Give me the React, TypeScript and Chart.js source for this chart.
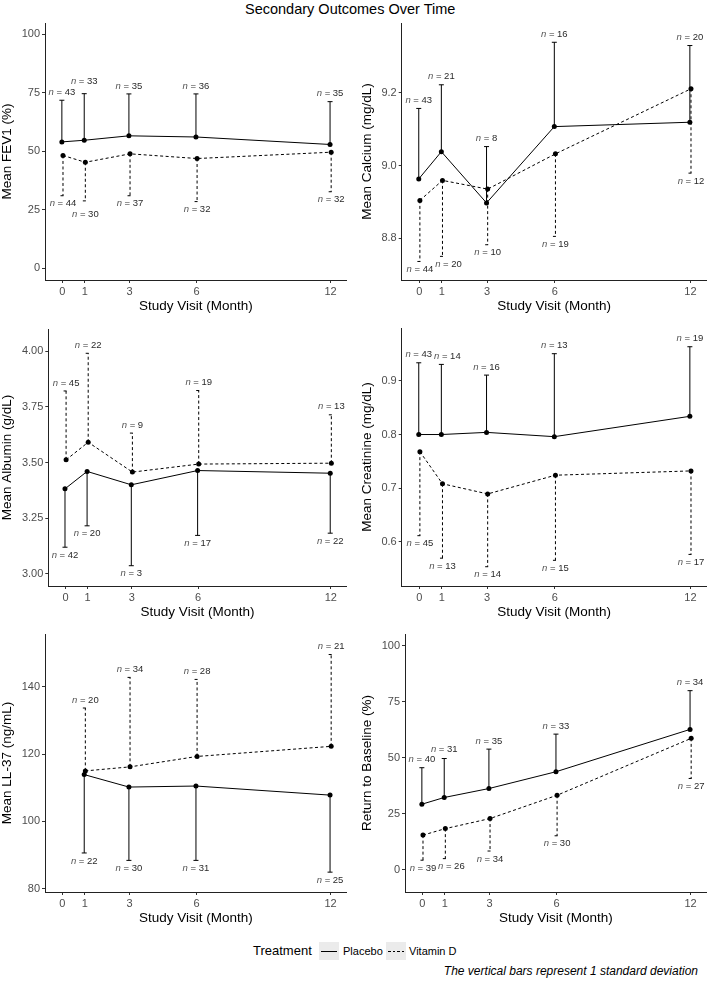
import React, { useEffect, useRef } from "react";
import { Chart, registerables } from "chart.js";

Chart.register(...registerables);

const FONT = '"Liberation Sans", Arial, Helvetica, sans-serif';

// ---------- data ----------
const months = [0, 1, 3, 6, 12];
const monthsLL37 = [1, 3, 6, 12];

// FEV1 (%)
const fev1Ticks = [0, 25, 50, 75, 100];
const fev1PlaceboMean = [53.9, 54.6, 56.5, 56.0, 52.8];
const fev1PlaceboEnd = [71.7, 74.5, 74.4, 74.4, 71.1];
const fev1PlaceboN = [43, 33, 35, 36, 35];
const fev1VitDMean = [48.1, 45.2, 48.8, 46.8, 49.5];
const fev1VitDEnd = [30.9, 28.7, 30.9, 28.4, 32.6];
const fev1VitDN = [44, 30, 37, 32, 32];

// Calcium (mg/dL)
const calciumTicks = [8.8, 9.0, 9.2];
const calciumPlaceboMean = [8.963, 9.038, 8.897, 9.107, 9.119];
const calciumPlaceboEnd = [9.157, 9.222, 9.052, 9.339, 9.33];
const calciumPlaceboN = [43, 21, 8, 16, 20];
const calciumVitDMean = [8.904, 8.959, 8.935, 9.032, 9.211];
const calciumVitDEnd = [8.736, 8.75, 8.782, 8.805, 8.979];
const calciumVitDN = [44, 20, 10, 19, 12];

// Albumin (g/dL)
const albuminTicks = [3.0, 3.25, 3.5, 3.75, 4.0];
const albuminPlaceboMean = [3.382, 3.46, 3.4, 3.464, 3.452];
const albuminPlaceboEnd = [3.12, 3.216, 3.037, 3.173, 3.183];
const albuminPlaceboN = [42, 20, 3, 17, 22];
const albuminVitDMean = [3.512, 3.591, 3.457, 3.493, 3.497];
const albuminVitDEnd = [3.821, 3.99, 3.632, 3.823, 3.714];
const albuminVitDN = [45, 22, 9, 19, 13];

// Creatinine (mg/dL)
const creatTicks = [0.6, 0.7, 0.8, 0.9];
const creatPlaceboMean = [0.8, 0.8, 0.804, 0.796, 0.834];
const creatPlaceboEnd = [0.934, 0.931, 0.911, 0.951, 0.964];
const creatPlaceboN = [43, 14, 16, 13, 19];
const creatVitDMean = [0.768, 0.708, 0.689, 0.724, 0.732];
const creatVitDEnd = [0.611, 0.569, 0.553, 0.565, 0.576];
const creatVitDN = [45, 13, 14, 15, 17];

// LL-37 (ng/mL)
const ll37Ticks = [80, 100, 120, 140];
const ll37PlaceboMean = [113.9, 110.2, 110.5, 107.8];
const ll37PlaceboEnd = [90.6, 88.4, 88.4, 84.9];
const ll37PlaceboN = [22, 30, 31, 25];
const ll37VitDMean = [115.0, 116.2, 119.3, 122.3];
const ll37VitDEnd = [133.7, 142.8, 142.2, 149.6];
const ll37VitDN = [20, 34, 28, 21];

// Return to baseline (%)
const rtbTicks = [0, 25, 50, 75, 100];
const rtbPlaceboMean = [29.2, 32.2, 36.2, 43.7, 62.6];
const rtbPlaceboEnd = [45.5, 49.6, 53.8, 60.5, 79.9];
const rtbPlaceboN = [40, 31, 35, 33, 34];
const rtbVitDMean = [15.4, 18.3, 22.8, 33.2, 58.6];
const rtbVitDEnd = [4.2, 4.9, 8.3, 15.1, 40.7];
const rtbVitDN = [39, 26, 34, 30, 27];

const xTicks = [0, 1, 3, 6, 12];
const DODGE = 0.025;
const DASH = [3, 2.5];

// ---------- panels (layout + references to data) ----------
type PanelCfg = {
  yTitle: string;
  xs: number[];
  pMean: number[]; pEnd: number[]; pN: number[];
  vMean: number[]; vEnd: number[]; vN: number[];
  yTicks: number[]; dec: number; yMin: number; yMax: number;
  left: number; top: number; w: number; h: number; yW: number; padR: number; titlePad: number;
};

const panels: PanelCfg[] = [
  {
    yTitle: "Mean FEV1 (%)", xs: months,
    pMean: fev1PlaceboMean, pEnd: fev1PlaceboEnd, pN: fev1PlaceboN,
    vMean: fev1VitDMean, vEnd: fev1VitDEnd, vN: fev1VitDN,
    yTicks: fev1Ticks, dec: 0, yMin: -5.1, yMax: 104.7,
    left: 0, top: 11, w: 355, h: 305, yW: 45, padR: 8.3, titlePad: 0.3,
  },
  {
    yTitle: "Mean Calcium (mg/dL)", xs: months,
    pMean: calciumPlaceboMean, pEnd: calciumPlaceboEnd, pN: calciumPlaceboN,
    vMean: calciumVitDMean, vEnd: calciumVitDEnd, vN: calciumVitDN,
    yTicks: calciumTicks, dec: 1, yMin: 8.685, yMax: 9.392,
    left: 355, top: 11, w: 358, h: 305, yW: 46.7, padR: 6.3, titlePad: 5.3,
  },
  {
    yTitle: "Mean Albumin (g/dL)", xs: months,
    pMean: albuminPlaceboMean, pEnd: albuminPlaceboEnd, pN: albuminPlaceboN,
    vMean: albuminVitDMean, vEnd: albuminVitDEnd, vN: albuminVitDN,
    yTicks: albuminTicks, dec: 2, yMin: 2.946, yMax: 4.099,
    left: 0, top: 317, w: 355, h: 305, yW: 48.3, padR: 8.3, titlePad: 0.8,
  },
  {
    yTitle: "Mean Creatinine (mg/dL)", xs: months,
    pMean: creatPlaceboMean, pEnd: creatPlaceboEnd, pN: creatPlaceboN,
    vMean: creatVitDMean, vEnd: creatVitDEnd, vN: creatVitDN,
    yTicks: creatTicks, dec: 1, yMin: 0.517, yMax: 0.999,
    left: 355, top: 316, w: 358, h: 306, yW: 46.7, padR: 6.3, titlePad: 5.3,
  },
  {
    yTitle: "Mean LL-37 (ng/mL)", xs: monthsLL37,
    pMean: ll37PlaceboMean, pEnd: ll37PlaceboEnd, pN: ll37PlaceboN,
    vMean: ll37VitDMean, vEnd: ll37VitDEnd, vN: ll37VitDN,
    yTicks: ll37Ticks, dec: 0, yMin: 79, yMax: 155.7,
    left: 0, top: 622, w: 355, h: 306, yW: 45, padR: 8.3, titlePad: 0.3,
  },
  {
    yTitle: "Return to Baseline (%)", xs: months,
    pMean: rtbPlaceboMean, pEnd: rtbPlaceboEnd, pN: rtbPlaceboN,
    vMean: rtbVitDMean, vEnd: rtbVitDEnd, vN: rtbVitDN,
    yTicks: rtbTicks, dec: 0, yMin: -10, yMax: 105.2,
    left: 355, top: 622, w: 358, h: 306, yW: 50, padR: 6.3, titlePad: 5.8,
  },
];

// ---------- plugins ----------
const errorBarPlugin = {
  id: "errbars",
  beforeDatasetsDraw(chart: any) {
    const { ctx, scales } = chart;
    const x = scales.x, y = scales.y;
    chart.data.datasets.forEach((ds: any) => {
      ds.data.forEach((pt: any, j: number) => {
        const px = x.getPixelForValue(pt.x);
        const p0 = y.getPixelForValue(pt.y);
        const p1 = y.getPixelForValue(ds.errEnd[j]);
        ctx.save();
        ctx.strokeStyle = "#000";
        ctx.lineWidth = 1;
        ctx.setLineDash(ds.borderDash || []);
        ctx.beginPath();
        ctx.moveTo(px, p0);
        ctx.lineTo(px, p1);
        ctx.stroke();
        ctx.beginPath();
        ctx.moveTo(px - 2.5, p1);
        ctx.lineTo(px + 2.5, p1);
        ctx.stroke();
        ctx.restore();
      });
    });
  },
  afterDatasetsDraw(chart: any) {
    const { ctx, scales, chartArea } = chart;
    const x = scales.x, y = scales.y;
    const boxes: { cx: number; cy: number; w: number; h: number }[] = [];
    const H = 9;
    const clampY = (v: number) => Math.min(Math.max(v, chartArea.top + H / 2 + 1), chartArea.bottom - H / 2 - 1.5);
    const overlaps = (cx: number, cy: number, w: number) =>
      boxes.some(
        (b) => Math.abs(b.cx - cx) < (b.w + w) / 2 + 1 && Math.abs(b.cy - cy) < (b.h + H) / 2 + 1
      );
    chart.data.datasets.forEach((ds: any) => {
      ds.data.forEach((pt: any, j: number) => {
        const px = x.getPixelForValue(pt.x);
        const p0 = y.getPixelForValue(pt.y);
        const p1 = y.getPixelForValue(ds.errEnd[j]);
        const up = p1 < p0;
        ctx.save();
        ctx.font = `italic 9.5px ${FONT}`;
        const w1 = ctx.measureText("n").width;
        ctx.font = `9.5px ${FONT}`;
        const rest = " = " + ds.nVals[j];
        const w2 = ctx.measureText(rest).width;
        const w = w1 + w2;
        const baseY = clampY(up ? p1 - 8 : p1 + 8);
        let cx = px, cy = baseY;
        if (overlaps(cx, cy, w)) {
          for (let k = 1; k < 40; k++) {
            const vy = clampY(baseY + (up ? -k : k));
            if (!overlaps(px, vy, w)) { cy = vy; cx = px; break; }
            if (!overlaps(px + k, baseY, w)) { cx = px + k; cy = baseY; break; }
          }
        }
        boxes.push({ cx, cy, w, h: H });
        ctx.textBaseline = "middle";
        ctx.textAlign = "left";
        const sx = cx - w / 2;
        ctx.font = `italic 9.5px ${FONT}`;
        ctx.fillStyle = "#555";
        ctx.fillText("n", sx, cy);
        ctx.font = `9.5px ${FONT}`;
        ctx.fillStyle = "#2a2a2a";
        ctx.fillText(rest, sx + w1, cy);
        ctx.restore();
      });
    });
  },
};

function Panel({ cfg }: { cfg: PanelCfg }) {
  const ref = useRef<HTMLCanvasElement>(null);
  useEffect(() => {
    const canvas = ref.current!;
    const mk = (mean: number[], end: number[], n: number[], dx: number, dash: number[], label: string) => ({
      label,
      data: cfg.xs.map((m, i) => ({ x: m + dx, y: mean[i] })),
      errEnd: end,
      nVals: n,
      borderColor: "#000",
      backgroundColor: "#000",
      borderWidth: 1,
      borderDash: dash,
      pointRadius: 2.5,
      pointBorderWidth: 0,
      pointBackgroundColor: "#000",
      tension: 0,
      fill: false,
      clip: false,
    });
    const chart = new Chart(canvas, {
      type: "line",
      data: {
        datasets: [
          mk(cfg.pMean, cfg.pEnd, cfg.pN, -DODGE, [], "Placebo"),
          mk(cfg.vMean, cfg.vEnd, cfg.vN, DODGE, DASH, "Vitamin D"),
        ] as any,
      },
      options: {
        animation: false,
        responsive: false,
        maintainAspectRatio: false,
        layout: { padding: { top: 12, right: cfg.padR, left: 0, bottom: 0 } },
        plugins: { legend: { display: false }, tooltip: { enabled: false }, title: { display: false } },
        scales: {
          x: {
            type: "linear",
            min: -0.78,
            max: 12.72,
            afterBuildTicks: (s: any) => {
              s.ticks = xTicks.map((v) => ({ value: v }));
            },
            afterFit: (s: any) => {
              s.height = 36;
            },
            ticks: {
              color: "#4d4d4d",
              font: { size: 11, family: FONT },
              padding: 2,
              maxRotation: 0,
              autoSkip: false,
              callback: (v: any) => String(v),
            },
            grid: { display: true, drawOnChartArea: false, drawTicks: true, tickLength: 3, tickColor: "#333", tickWidth: 1 },
            border: { display: true, color: "#222", width: 1 },
            title: {
              display: true,
              text: "Study Visit (Month)",
              color: "#000",
              font: { size: 13.5, family: FONT, lineHeight: 1 },
              padding: { top: 0, bottom: 2.5 },
            },
          },
          y: {
            type: "linear",
            min: cfg.yMin,
            max: cfg.yMax,
            afterBuildTicks: (s: any) => {
              s.ticks = cfg.yTicks.map((v) => ({ value: v }));
            },
            afterFit: (s: any) => {
              s.width = cfg.yW;
            },
            ticks: {
              color: "#4d4d4d",
              font: { size: 11, family: FONT },
              padding: 2,
              autoSkip: false,
              callback: (v: any) => Number(v).toFixed(cfg.dec),
            },
            grid: { display: true, drawOnChartArea: false, drawTicks: true, tickLength: 3, tickColor: "#333", tickWidth: 1 },
            border: { display: true, color: "#222", width: 1 },
            title: {
              display: true,
              text: cfg.yTitle,
              color: "#000",
              font: { size: 13.5, family: FONT, lineHeight: 1 },
              padding: { top: cfg.titlePad, bottom: 0 },
            },
          },
        },
      } as any,
      plugins: [errorBarPlugin],
    });
    return () => chart.destroy();
  }, []);
  return (
    <canvas
      ref={ref}
      width={cfg.w}
      height={cfg.h}
      style={{ position: "absolute", left: cfg.left, top: cfg.top, width: cfg.w, height: cfg.h }}
    />
  );
}

export default function App() {
  return (
    <div
      style={{
        position: "absolute",
        left: 0,
        top: 0,
        width: 713,
        height: 985,
        background: "#fff",
        overflow: "hidden",
        fontFamily: FONT,
      }}
    >
      <div
        style={{
          position: "absolute",
          left: 245,
          top: 0,
          fontSize: 14.5,
          lineHeight: "18px",
          color: "#000",
          whiteSpace: "nowrap",
        }}
      >
        Secondary Outcomes Over Time
      </div>
      {panels.map((p, i) => (
        <Panel key={i} cfg={p} />
      ))}
      {/* legend */}
      <div style={{ position: "absolute", left: 253, top: 943, fontSize: 13, lineHeight: "16px", color: "#000" }}>
        Treatment
      </div>
      <div style={{ position: "absolute", left: 319, top: 942, width: 20, height: 18, background: "#ebebeb" }}>
        <div style={{ position: "absolute", left: 2, top: 8.5, width: 16, height: 1.1, background: "#000" }} />
      </div>
      <div style={{ position: "absolute", left: 343, top: 944, fontSize: 11, lineHeight: "14px", color: "#000" }}>
        Placebo
      </div>
      <div style={{ position: "absolute", left: 386, top: 942, width: 20, height: 18, background: "#ebebeb" }}>
        <div
          style={{
            position: "absolute",
            left: 2,
            top: 8.5,
            width: 16,
            height: 1.1,
            background: "repeating-linear-gradient(to right, #000 0px, #000 2.5px, transparent 2.5px, transparent 4.5px)",
          }}
        />
      </div>
      <div style={{ position: "absolute", left: 409, top: 944, fontSize: 11, lineHeight: "14px", color: "#000" }}>
        Vitamin D
      </div>
      <div
        style={{
          position: "absolute",
          right: 713 - 698,
          top: 963,
          fontSize: 12,
          lineHeight: "16px",
          fontStyle: "italic",
          color: "#000",
          whiteSpace: "nowrap",
        }}
      >
        The vertical bars represent 1 standard deviation
      </div>
    </div>
  );
}
